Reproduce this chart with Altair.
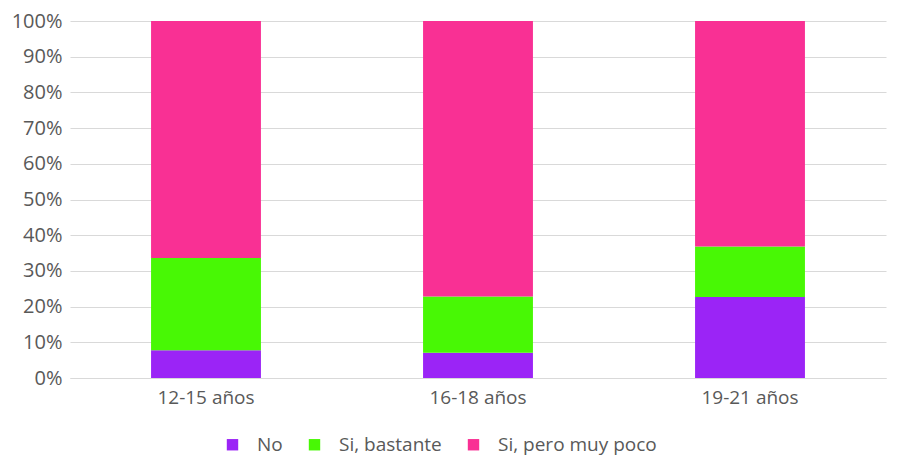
import altair as alt
import pandas as pd

groups = ["12-15 años", "16-18 años", "19-21 años"]
series = ["No", "Si, bastante", "Si, pero muy poco"]
no_vals = [7.8, 7.1, 22.7]
bastante_vals = [25.8, 15.7, 14.1]
poco_vals = [66.4, 77.2, 63.2]
colors = ["#9B24F6", "#48F805", "#F93094"]

rows = []
for i, g in enumerate(groups):
    for s, vals in zip(series, [no_vals, bastante_vals, poco_vals]):
        rows.append({"grupo": g, "serie": s, "valor": vals[i], "orden": series.index(s)})
df = pd.DataFrame(rows)

FONT = "Open Sans"
GRAY = "#595959"

chart = alt.Chart(df).mark_bar().encode(
    x=alt.X("grupo:N", sort=groups, title=None,
            scale=alt.Scale(paddingInner=0.596, paddingOuter=0.298),
            axis=alt.Axis(labelAngle=0, labelFontSize=19, labelColor=GRAY, labelFont=FONT,
                          labelPadding=10, ticks=False, domain=True, domainColor="#d9d9d9",
                          domainWidth=1)),
    y=alt.Y("valor:Q", stack="normalize", title=None,
            scale=alt.Scale(domain=[0, 1]),
            axis=alt.Axis(format=".0%", values=[i / 10 for i in range(11)],
                          labelFontSize=20, labelColor=GRAY, labelFont=FONT,
                          labelPadding=8, ticks=False, domain=False,
                          gridColor="#d9d9d9", gridWidth=1)),
    color=alt.Color("serie:N", sort=series,
                    scale=alt.Scale(domain=series, range=colors),
                    legend=alt.Legend(title=None, orient="none", direction="horizontal",
                                      legendX=153, legendY=414, padding=0,
                                      symbolType="square", symbolSize=130, symbolStrokeWidth=0,
                                      labelFontSize=19, labelColor=GRAY, labelFont=FONT,
                                      labelLimit=400, labelOffset=15, columnPadding=22)),
    order=alt.Order("orden:Q", sort="ascending"),
).properties(width=816, height=357, padding={"top": 3, "left": 3, "right": 5, "bottom": 4}).configure(
    font=FONT, background="white", view=alt.ViewConfig(stroke=None)
)

chart.save("out.html", embed_options={"renderer": "svg", "actions": False})
